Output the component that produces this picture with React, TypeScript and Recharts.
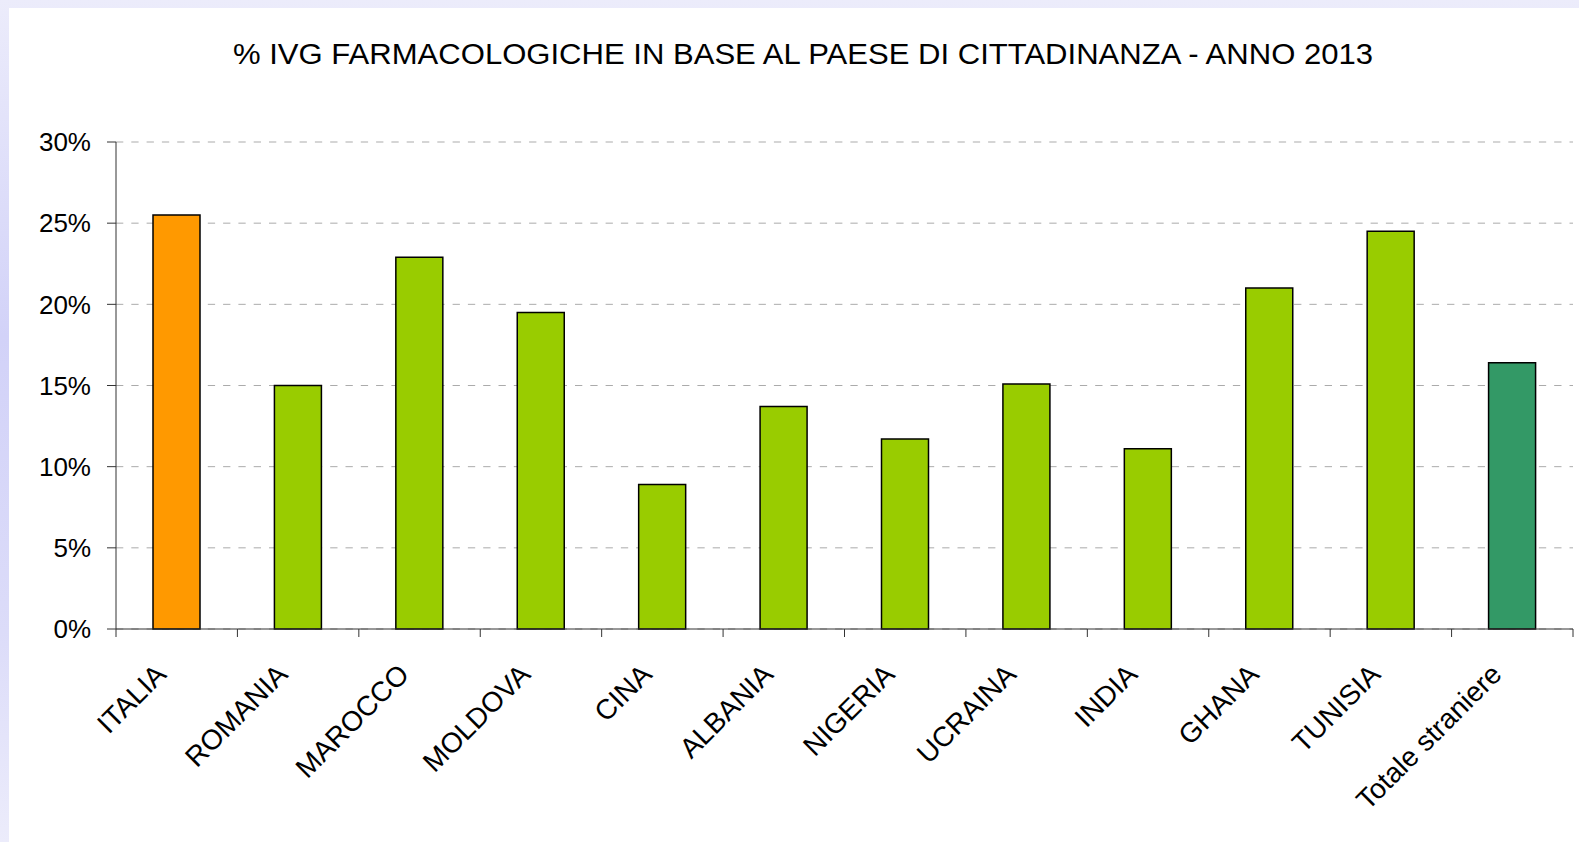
import React from 'react';
import { BarChart, Bar, XAxis, YAxis, CartesianGrid, Cell } from 'recharts';

const categories = [
  'ITALIA', 'ROMANIA', 'MAROCCO', 'MOLDOVA', 'CINA', 'ALBANIA',
  'NIGERIA', 'UCRAINA', 'INDIA', 'GHANA', 'TUNISIA', 'Totale straniere',
];
const values = [25.5, 15.0, 22.9, 19.5, 8.9, 13.7, 11.7, 15.1, 11.1, 21.0, 24.5, 16.4];
const yTicks = [0, 5, 10, 15, 20, 25, 30];
const barColors = [
  '#FF9900', '#99CC00', '#99CC00', '#99CC00', '#99CC00', '#99CC00',
  '#99CC00', '#99CC00', '#99CC00', '#99CC00', '#99CC00', '#339966',
];

const title = '% IVG FARMACOLOGICHE IN BASE AL PAESE DI CITTADINANZA - ANNO 2013';

const W = 1579;
const H = 842;
const FONT = '"Liberation Sans", Arial, sans-serif';
const MARGIN = { top: 142, right: 6, left: 0, bottom: 13 };
const BAND = (W - 116 - MARGIN.right) / categories.length;

const data = categories.map((name, i) => ({ name, value: values[i] }));

// etichette ruotate + tacche tra le categorie (come in Excel)
const CategoryTick = (props: any) => {
  const { x, y, payload, index, visibleTicksCount } = props;
  const half = payload && payload.offset ? payload.offset : BAND / 2;
  const last = index === visibleTicksCount - 1;
  return (
    <g>
      <line x1={x - half} y1={y} x2={x - half} y2={y + 8} stroke="#333" strokeWidth={1} />
      {last && <line x1={x + half} y1={y} x2={x + half} y2={y + 8} stroke="#333" strokeWidth={1} />}
      <text
        transform={`translate(${x - 9},${y + 47}) rotate(-45)`}
        textAnchor="end"
        fontSize={28}
        fontFamily={FONT}
        fill="#000"
      >
        {payload.value}
      </text>
    </g>
  );
};

export default function App() {
  return (
    <div
      style={{
        position: 'absolute',
        left: 0,
        top: 0,
        width: W,
        height: H,
        overflow: 'hidden',
        background: 'linear-gradient(to bottom, #ececfb 0%, #d2d2f8 40%, #dcdcf9 75%, #ececfb 100%)',
      }}
    >
      <div style={{ position: 'absolute', left: 9, top: 8, right: 0, bottom: 0, background: '#fff' }} />
      <svg style={{ position: 'absolute', left: 0, top: 0 }} width={W} height={100}>
        <text x={233} y={64} fontSize={30} fontFamily={FONT} fill="#000" textLength={1140} lengthAdjust="spacingAndGlyphs">
          {title}
        </text>
      </svg>
      <div style={{ position: 'absolute', left: 0, top: 0 }}>
        <BarChart width={W} height={H} data={data} margin={MARGIN}>
          <CartesianGrid vertical={false} stroke="#ababab" strokeDasharray="7.3 8" />
          <XAxis
            dataKey="name"
            interval={0}
            height={200}
            tickLine={false}
            tickSize={0}
            tickMargin={0}
            axisLine={{ stroke: '#333' }}
            tick={<CategoryTick />}
          />
          <YAxis
            width={116}
            domain={[0, 30]}
            ticks={yTicks}
            interval={0}
            tickFormatter={(v: number) => `${v}%`}
            tickSize={9}
            tickMargin={16}
            axisLine={{ stroke: '#333' }}
            tickLine={{ stroke: '#333' }}
            tick={{ fontSize: 26, fill: '#000', fontFamily: FONT }}
          />
          <Bar dataKey="value" barSize={47} stroke="#000" strokeWidth={1.5} isAnimationActive={false}>
            {data.map((d, i) => (
              <Cell key={d.name} fill={barColors[i]} />
            ))}
          </Bar>
        </BarChart>
      </div>
    </div>
  );
}
